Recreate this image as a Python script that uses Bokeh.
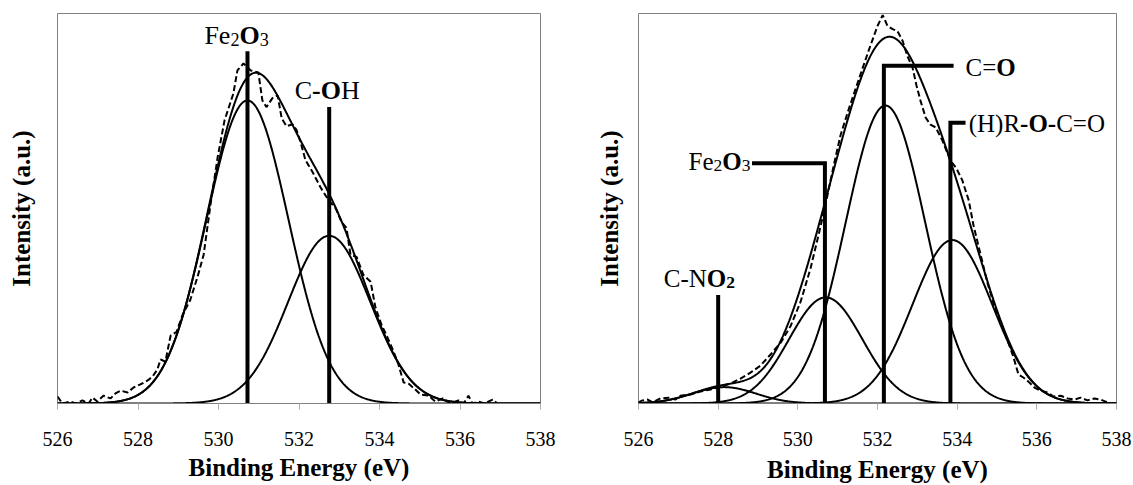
import numpy as np
from bokeh.plotting import figure
from bokeh.models import Range1d, FixedTicker, Label
from bokeh.layouts import row
from bokeh.embed import file_html
from bokeh.resources import INLINE

# ---------------- data ----------------
x_ticks = [526, 528, 530, 532, 534, 536, 538]
x_title = "Binding Energy (eV)"
y_title = "Intensity (a.u.)"

# Left panel: fitted components (centre eV, height, width)
left_names = ["Fe2O3", "C-OH"]
left_centers = [530.72, 532.75]
left_heights = [0.777, 0.430]
left_sigmas = [1.02, 1.02]
left_marker_e = [530.72, 532.75]
left_marker_top = [0.903, 0.760]

# Left panel: measured spectrum (dashed)
left_exp_e = [526.00, 526.12, 526.32, 526.45, 526.62, 526.77, 526.87, 526.99, 527.14, 527.32,
              527.44, 527.57, 527.74, 527.89, 528.06, 528.24, 528.36, 528.48, 528.56, 528.68,
              528.81, 528.96, 529.11, 529.30, 529.48, 529.63, 529.80, 529.98, 530.15, 530.37,
              530.47, 530.62, 530.80, 530.99, 531.09, 531.19, 531.34, 531.47, 531.57, 531.69,
              531.84, 531.94, 532.04, 532.16, 532.34, 532.53, 532.73, 532.91, 533.06, 533.18,
              533.28, 533.43, 533.60, 533.78, 533.90, 534.05, 534.20, 534.35, 534.47, 534.60,
              534.72, 534.89, 535.02, 535.22, 535.39, 535.57, 535.76, 535.96, 536.09, 536.21,
              536.31, 536.46, 536.61, 536.81, 536.93]
left_exp_i = [0.018, 0.000, 0.005, 0.000, 0.008, 0.000, 0.015, 0.005, 0.020, 0.013,
              0.026, 0.033, 0.028, 0.041, 0.049, 0.059, 0.069, 0.087, 0.113, 0.107,
              0.174, 0.184, 0.228, 0.266, 0.325, 0.381, 0.509, 0.632, 0.726, 0.795,
              0.854, 0.872, 0.854, 0.849, 0.777, 0.760, 0.783, 0.790, 0.731, 0.711,
              0.716, 0.701, 0.670, 0.624, 0.593, 0.555, 0.522, 0.501, 0.465, 0.450,
              0.381, 0.376, 0.330, 0.312, 0.246, 0.202, 0.169, 0.133, 0.100, 0.054,
              0.051, 0.036, 0.023, 0.020, 0.005, 0.013, 0.000, 0.008, 0.000, 0.020,
              0.000, 0.005, 0.000, 0.010, 0.000]

# Right panel: fitted components
right_names = ["C-NO2", "Fe2O3", "C=O", "(H)R-O-C=O"]
right_centers = [528.15, 530.70, 532.20, 533.88]
right_heights = [0.042, 0.272, 0.764, 0.419]
right_sigmas = [0.80, 0.92, 1.00, 1.00]
right_marker_e = [528.00, 530.68, 532.16, 533.83]
right_marker_top = [0.278, 0.616, 0.866, 0.720]

# Right panel: measured spectrum (dashed)
right_exp_e = [526.00, 526.10, 526.23, 526.35, 526.55, 526.75, 526.93, 527.05, 527.31, 527.56,
               527.81, 528.06, 528.31, 528.56, 528.81, 529.06, 529.31, 529.57, 529.82, 530.07,
               530.32, 530.52, 530.69, 530.90, 531.07, 531.25, 531.45, 531.62, 531.82, 532.00,
               532.13, 532.25, 532.38, 532.50, 532.63, 532.75, 532.88, 532.98, 533.08, 533.21,
               533.33, 533.46, 533.63, 533.83, 533.98, 534.13, 534.29, 534.41, 534.59, 534.76,
               534.91, 535.09, 535.26, 535.41, 535.54, 535.67, 535.79, 535.94, 536.09, 536.27,
               536.42, 536.60, 536.77, 536.95, 537.10, 537.27, 537.45, 537.60, 537.77]
right_exp_i = [0.003, 0.008, 0.010, 0.003, 0.013, 0.015, 0.010, 0.020, 0.023, 0.031,
               0.036, 0.043, 0.051, 0.064, 0.079, 0.097, 0.125, 0.156, 0.199, 0.261,
               0.347, 0.432, 0.508, 0.610, 0.687, 0.746, 0.807, 0.858, 0.917, 0.968,
               0.996, 0.968, 0.960, 0.955, 0.930, 0.891, 0.861, 0.815, 0.776, 0.733,
               0.715, 0.708, 0.674, 0.623, 0.603, 0.572, 0.521, 0.457, 0.381, 0.309,
               0.258, 0.209, 0.163, 0.120, 0.074, 0.066, 0.056, 0.041, 0.033, 0.028,
               0.018, 0.020, 0.013, 0.010, 0.015, 0.008, 0.013, 0.010, 0.003]

# ---------------- helpers ----------------
FONT = "'Liberation Serif'"
REG = {'F': .556, 'e': .444, '2': .5, '3': .5, 'O': .722, 'C': .667, '-': .333, 'H': .722,
       'N': .722, '(': .333, ')': .333, 'R': .667, '=': .564, ' ': .25}
BLD = {'O': .778, '-': .333, '2': .5, '3': .5, 'N': .722, 'C': .722, 'H': .778}

FIG_H = 485
BORDER_TOP = 13
BORDER_BOTTOM = 81
FRAME_H = FIG_H - BORDER_TOP - BORDER_BOTTOM
LABEL_LIFT = 8.5  # px correction of label baseline


def make_fig(width, bl, br, ystand, xstand):
    p = figure(width=width, height=FIG_H, x_range=Range1d(526, 538), y_range=Range1d(0, 1),
               output_backend="svg", toolbar_location=None,
               min_border_left=bl, min_border_right=br,
               min_border_top=BORDER_TOP, min_border_bottom=BORDER_BOTTOM)
    p.xgrid.visible = False
    p.ygrid.visible = False
    p.outline_line_color = "#808080"
    p.outline_line_width = 1
    p.background_fill_color = "white"
    p.border_fill_color = "white"
    ax = p.xaxis[0]
    ax.ticker = FixedTicker(ticks=x_ticks)
    ax.axis_line_color = "#808080"
    ax.major_tick_line_color = "#b0b0b0"
    ax.major_tick_out = 6
    ax.major_tick_in = 0
    ax.minor_tick_line_color = None
    ax.major_label_text_font = FONT
    ax.major_label_text_font_size = "20px"
    ax.major_label_text_color = "black"
    ax.major_label_standoff = 22
    ax.axis_label = x_title
    ax.axis_label_text_font = FONT
    ax.axis_label_text_font_size = "25px"
    ax.axis_label_text_font_style = "bold"
    ax.axis_label_text_color = "black"
    ax.axis_label_standoff = xstand
    ay = p.yaxis[0]
    ay.ticker = FixedTicker(ticks=[])
    ay.axis_line_color = None
    ay.major_tick_line_color = None
    ay.minor_tick_line_color = None
    ay.axis_label = y_title
    ay.axis_label_text_font = FONT
    ay.axis_label_text_font_size = "25px"
    ay.axis_label_text_font_style = "bold"
    ay.axis_label_text_color = "black"
    ay.axis_label_standoff = ystand
    return p


def gauss(x, c, h, s):
    return h * np.exp(-(x - c) ** 2 / (2 * s * s))


def rich(p, segs, x, yb, size, ppx, ppy, align):
    widths = []
    for t, b, s in segs:
        fs = size * 0.7 if s else size
        tab = BLD if b else REG
        widths.append(sum(tab.get(c, .5) for c in t) * fs)
    total = sum(widths)
    if align == "center":
        cx = x - total / 2 / ppx
    elif align == "right":
        cx = x - total / ppx
    else:
        cx = x
    yb = yb + LABEL_LIFT / ppy
    for (t, b, s), w in zip(segs, widths):
        fs = size * 0.7 if s else size
        yy = yb - (4.0 / ppy if s else 0.0)
        p.add_layout(Label(x=cx, y=yy, text=t, text_font=FONT, text_font_size=f"{fs:.1f}px",
                           text_font_style="bold" if b else "normal", text_baseline="alphabetic",
                           text_align="left", text_color="black"))
        cx += w / ppx


xs = np.linspace(526, 538, 721)

# ---------------- left panel ----------------
LW, LBL, LBR = 590, 57, 50
pl = make_fig(LW, LBL, LBR, 23, 5)
ppx_l = (LW - LBL - LBR) / 12.0
ppy = FRAME_H

env = np.zeros_like(xs)
for c, h, s in zip(left_centers, left_heights, left_sigmas):
    comp = gauss(xs, c, h, s)
    env += comp
    pl.line(xs, comp, line_color="black", line_width=2)
pl.line(xs, env, line_color="black", line_width=2)
pl.line(left_exp_e, left_exp_i, line_color="black", line_width=2, line_dash="6 3")
pl.segment(x0=left_marker_e, y0=[0, 0], x1=left_marker_e, y1=left_marker_top,
           line_color="black", line_width=4, line_cap="butt")

rich(pl, [("Fe", False, False), ("2", False, True), ("O", True, False), ("3", False, True)],
     530.45, 0.923, 26, ppx_l, ppy, "center")
rich(pl, [("C", False, False), ("-O", True, False), ("H", False, False)],
     532.70, 0.780, 26, ppx_l, ppy, "center")

# ---------------- right panel ----------------
RW, RBL, RBR = 543, 48, 17
pr = make_fig(RW, RBL, RBR, 16, 7)
ppx_r = (RW - RBL - RBR) / 12.0

env = np.zeros_like(xs)
for c, h, s in zip(right_centers, right_heights, right_sigmas):
    comp = gauss(xs, c, h, s)
    env += comp
    pr.line(xs, comp, line_color="black", line_width=2)
pr.line(xs, env, line_color="black", line_width=2)
pr.line(right_exp_e, right_exp_i, line_color="black", line_width=2, line_dash="6 3")

# leader lines (vertical + elbow)
elbow_end = [None, 528.85, 533.91, 534.21]
mx, my = [], []
for e, top, end in zip(right_marker_e, right_marker_top, elbow_end):
    if end is None:
        mx.append([e, e]); my.append([0, top])
    else:
        mx.append([end, e, e]); my.append([top, top, 0])
pr.multi_line(mx, my, line_color="black", line_width=4, line_cap="butt", line_join="miter")

rich(pr, [("C-N", False, False), ("O", True, False), ("2", True, True)],
     527.53, 0.299, 25, ppx_r, ppy, "center")
rich(pr, [("Fe", False, False), ("2", False, True), ("O", True, False), ("3", False, True)],
     528.81, 0.598, 25, ppx_r, ppy, "right")
rich(pr, [("C=", False, False), ("O", True, False)],
     534.21, 0.840, 25, ppx_r, ppy, "left")
rich(pr, [("(H)R", False, False), ("-O-", True, False), ("C=O", False, False)],
     534.29, 0.695, 25, ppx_r, ppy, "left")

layout = row(pl, pr)
open("out.html", "w").write(file_html(layout, INLINE))
